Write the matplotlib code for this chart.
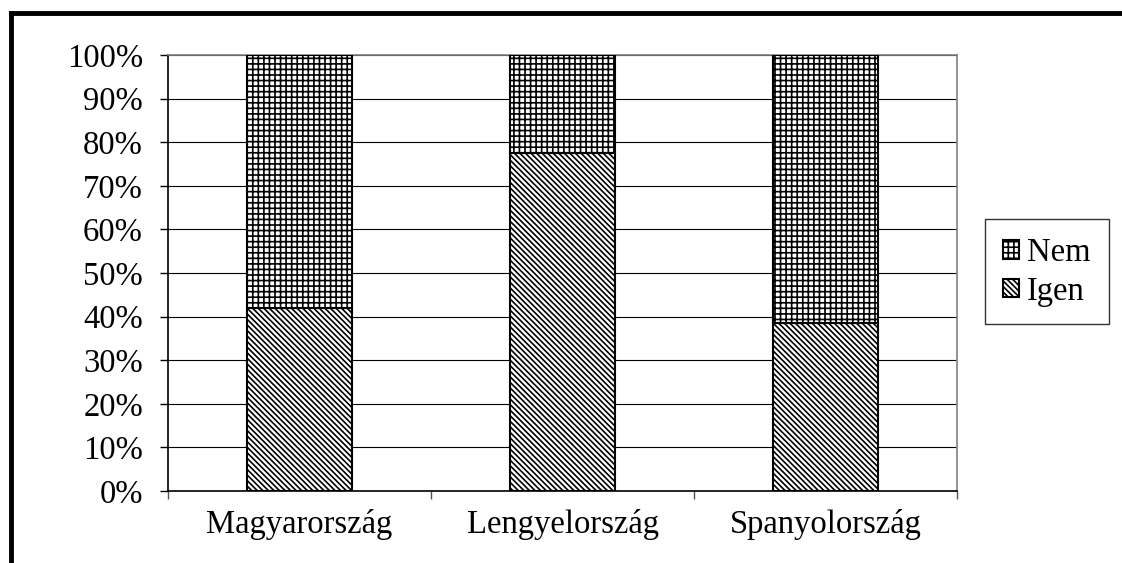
import numpy as np
import matplotlib
matplotlib.use('Agg')
import matplotlib.pyplot as plt
from matplotlib.lines import Line2D
from matplotlib.ticker import PercentFormatter

# data
countries = ['Magyarország', 'Lengyelország', 'Spanyolország']
igen = [42, 77.5, 38.5]
nem = [100 - v for v in igen]

plt.rcParams['font.family'] = ['Liberation Serif', 'DejaVu Serif']
plt.rcParams['hatch.linewidth'] = 1.2
plt.rcParams['hatch.color'] = 'black'

fig = plt.figure(figsize=(11.22, 5.63), dpi=100)
ax = fig.add_axes([0.1497, 0.1279, 0.7033, 0.7744])

x = np.arange(len(countries))
b1 = ax.bar(x, igen, width=0.4, color='white', edgecolor='black',
            linewidth=1.5, hatch='\\\\\\\\\\\\', label='Igen', zorder=3)
b2 = ax.bar(x, nem, width=0.4, bottom=igen, color='white', edgecolor='black',
            linewidth=1.5, hatch='+++', label='Nem', zorder=3)

ax.set_xlim(-0.5, len(countries) - 0.5)
ax.set_ylim(0, 100)
ax.set_yticks(np.arange(0, 101, 10))
ax.yaxis.set_major_formatter(PercentFormatter(decimals=0))
ax.yaxis.grid(True, color='black', linewidth=0.8, zorder=0)
ax.set_axisbelow(True)

ax.set_xticks(x)
ax.set_xticklabels(countries)
ax.set_xticks(np.arange(-0.5, len(countries), 1), minor=True)
ax.tick_params(axis='x', which='major', length=0, pad=13, labelsize=23.5)
ax.tick_params(axis='x', which='minor', length=6, width=1, color='#555555', direction='out')
ax.tick_params(axis='y', length=6, width=1, pad=12, labelsize=23.5)

ax.spines['left'].set_color('black')
ax.spines['bottom'].set_color('black')
ax.spines['top'].set_color('#808080')
ax.spines['right'].set_color('#808080')
for s in ax.spines.values():
    s.set_linewidth(1.2)

leg = fig.legend([b2, b1], ['Nem', 'Igen'], loc='center',
                 bbox_to_anchor=(0.933, 0.517), fontsize=23.5,
                 frameon=True, fancybox=False, edgecolor='black',
                 handlelength=0.5, handleheight=0.5, handletextpad=0.25,
                 labelspacing=0.25, borderpad=0.55, borderaxespad=0)
leg.get_frame().set_linewidth(1.0)

# outer frame (left and top only)
fig.add_artist(Line2D([0.0098, 0.0098], [0.0, 0.977], transform=fig.transFigure,
                      color='black', linewidth=3.5, solid_capstyle='projecting'))
fig.add_artist(Line2D([0.0098, 1.0], [0.977, 0.977], transform=fig.transFigure,
                      color='black', linewidth=3.5, solid_capstyle='projecting'))

fig.savefig('out.png', dpi=100)
